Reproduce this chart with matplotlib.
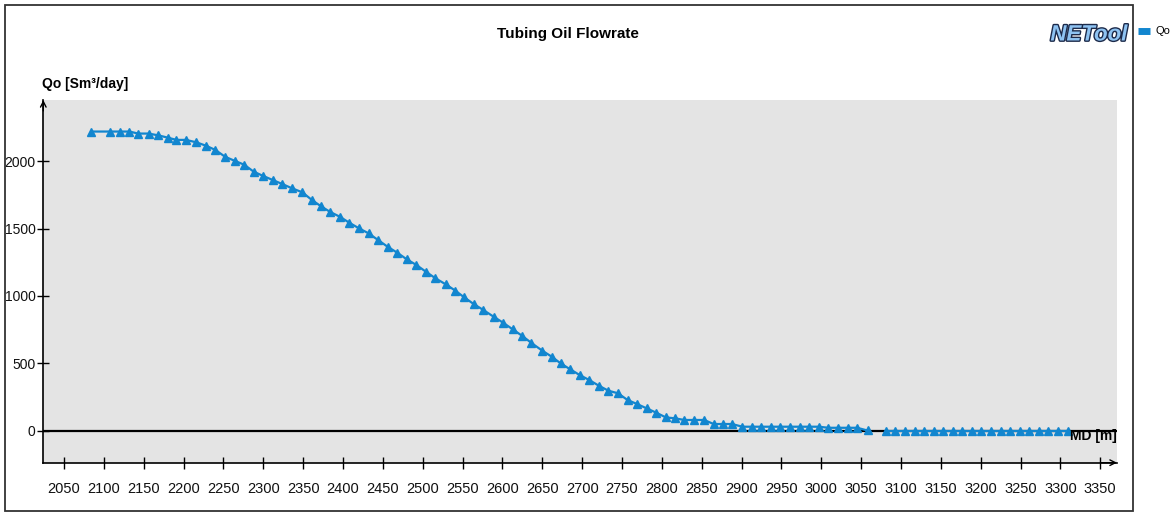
import matplotlib
matplotlib.use("Agg")
import matplotlib.pyplot as plt
from matplotlib.patches import Rectangle
from matplotlib.lines import Line2D
import matplotlib.patheffects as pe

# Measured depth along the well [m] and tubing oil flowrate [Sm3/day]
md = [2084, 2108, 2120, 2132, 2143, 2156, 2168, 2180, 2191, 2203,
      2216, 2228, 2240, 2252, 2264, 2276, 2288, 2300, 2312, 2324,
      2336, 2349, 2361, 2372, 2384, 2396, 2408, 2420, 2432, 2444,
      2456, 2468, 2480, 2492, 2504, 2516, 2529, 2541, 2552, 2564,
      2576, 2589, 2601, 2613, 2625, 2636, 2650, 2662, 2673, 2685,
      2697, 2709, 2721, 2733, 2745, 2757, 2769, 2781, 2793, 2805,
      2817, 2828, 2840, 2853, 2865, 2877, 2888, 2901, 2913, 2925,
      2937, 2948, 2961, 2973, 2985, 2997, 3009, 3021, 3033, 3045,
      3058]
qo = [2220, 2220, 2220, 2220, 2205, 2205, 2192, 2175, 2158, 2158,
      2140, 2115, 2083, 2033, 2003, 1974, 1922, 1890, 1860, 1830,
      1799, 1769, 1712, 1667, 1623, 1588, 1543, 1502, 1465, 1415,
      1365, 1321, 1272, 1230, 1180, 1131, 1086, 1039, 990, 940,
      896, 846, 801, 752, 703, 653, 594, 549, 500, 456,
      413, 376, 334, 297, 278, 228, 198, 166, 134, 99,
      92, 80, 80, 80, 50, 50, 50, 30, 30, 30,
      30, 30, 30, 30, 30, 30, 22, 22, 22, 22,
      2]
# Downstream section, no inflow
md_tail = [3081, 3093, 3105, 3117, 3129, 3141, 3153, 3165, 3177, 3189,
           3201, 3213, 3225, 3237, 3249, 3261, 3273, 3285, 3297, 3309]
qo_tail = [1, 1, 1, 1, 1, 1, 1, 1, 1, 1,
           1, 1, 1, 1, 1, 1, 1, 1, 1, 1]

x_ticks = list(range(2050, 3351, 50))
y_ticks = [0, 500, 1000, 1500, 2000]

W, H = 1176, 513
plt.rcParams["font.family"] = ["Liberation Sans", "DejaVu Sans"]

fig = plt.figure(figsize=(W / 100, H / 100), dpi=100)
fig.patch.set_facecolor("white")


def fx(px):
    return px / W


def fy(py):
    return 1 - py / H


# outer frame
fig.add_artist(Rectangle((fx(5), fy(511)), fx(1133) - fx(5), fy(5) - fy(511),
                         transform=fig.transFigure, fill=False,
                         edgecolor="#333333", lw=1.3))

ax = fig.add_axes([fx(43.3), fy(462.7), fx(1117) - fx(43.3), fy(100) - fy(462.7)])
ax.set_facecolor("#e4e4e4")
ax.set_xlim(2024, 3371)
ax.set_ylim(-237, 2454)

for s in ("top", "right"):
    ax.spines[s].set_visible(False)
for s in ("left", "bottom"):
    ax.spines[s].set_color("black")
    ax.spines[s].set_linewidth(1.2)

ax.axhline(0, color="black", lw=1.6, zorder=2)

color = "#1286cf"
ax.plot(md, qo, color=color, lw=1.6, marker="^", ms=5.2, mec=color,
        mfc=color, zorder=3, clip_on=False)
ax.plot(md_tail, qo_tail, color=color, lw=1.6, marker="^", ms=5.2, mec=color,
        mfc=color, zorder=3)

ax.set_xticks(x_ticks)
ax.set_yticks(y_ticks)
ax.tick_params(axis="both", direction="inout", length=8, width=1,
               color="black", labelcolor="#111111")
ax.tick_params(axis="x", pad=10, labelsize=10.5)
ax.tick_params(axis="y", pad=1.5, labelsize=10)

# axis arrows
ax.annotate("", xy=(1.0, 0), xytext=(0.985, 0), xycoords="axes fraction",
            arrowprops=dict(arrowstyle="->", lw=1.0, color="black",
                            shrinkA=0, shrinkB=0), annotation_clip=False)
ax.annotate("", xy=(0, 1.0), xytext=(0, 0.97), xycoords="axes fraction",
            arrowprops=dict(arrowstyle="->", lw=1.0, color="black",
                            shrinkA=0, shrinkB=0), annotation_clip=False)

ax.text(1.0, -40, "MD [m]", transform=ax.get_yaxis_transform(),
        ha="right", va="center", fontsize=10, fontweight="bold", zorder=4)

fig.text(fx(42), fy(84), "Qo [Sm\u00b3/day]", ha="left", va="center",
         fontsize=10, fontweight="bold")
fig.text(fx(568), fy(34), "Tubing Oil Flowrate", ha="center", va="center",
         fontsize=11, fontweight="bold")

logo = fig.text(fx(1089), fy(35), "NETool", ha="center", va="center",
                fontsize=16, fontweight="bold", fontstyle="italic",
                color="#8ec3f2")
logo.set_path_effects([pe.Stroke(linewidth=2.0, foreground="#1c2a4a"),
                       pe.Normal()])

fig.add_artist(Line2D([fx(1138), fx(1150)], [fy(31), fy(31)],
                      transform=fig.transFigure, color=color, lw=5,
                      solid_capstyle="butt"))
fig.text(fx(1155), fy(31), "Qo", ha="left", va="center", fontsize=8)

fig.savefig("out.png", dpi=100)
